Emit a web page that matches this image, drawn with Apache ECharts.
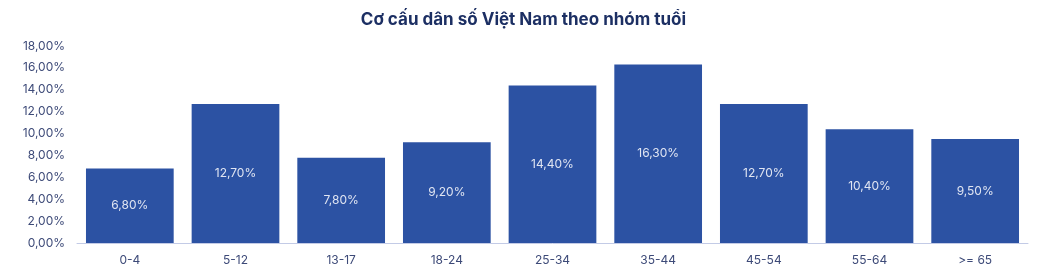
<!DOCTYPE html>
<html><head><meta charset="utf-8">
<script src="https://cdn.jsdelivr.net/npm/echarts@6/dist/echarts.min.js"></script>
<style>html,body{margin:0;padding:0;background:#fff}#c{width:1047px;height:271px}</style>
</head><body><div id="c"></div>
<script>
const categories = ['0-4','5-12','13-17','18-24','25-34','35-44','45-54','55-64','>= 65'];
const values = [6.8, 12.7, 7.8, 9.2, 14.4, 16.3, 12.7, 10.4, 9.5];
const titleText = 'Cơ cấu dân số Việt Nam theo nhóm tuổi';
const fmt = v => v.toFixed(2).replace('.', ',') + '%';
const chart = echarts.init(document.getElementById('c'));
chart.setOption({
  animation: false,
  textStyle: { fontFamily: 'Inter' },
  title: { text: titleText, left: 'center', top: 6,
    textStyle: { fontFamily: 'Inter', fontSize: 17, fontWeight: 'bold', color: '#1c2f63' } },
  grid: { left: 77, right: 19, top: 46, bottom: 28 },
  xAxis: { type: 'category', data: categories,
    axisLine: { lineStyle: { color: '#c3cbe6', width: 1 } },
    axisTick: { show: false },
    axisLabel: { color: '#3d4a78', fontSize: 12, margin: 11 } },
  yAxis: { type: 'value', min: 0, max: 18, interval: 2,
    splitLine: { show: false }, axisLine: { show: false }, axisTick: { show: false },
    axisLabel: { color: '#3d4a78', fontSize: 12, margin: 12, formatter: fmt } },
  series: [{ type: 'bar', data: values, barCategoryGap: '17%',
    itemStyle: { color: '#2c52a3' },
    label: { show: true, position: 'inside', color: '#e0e5f2', fontSize: 12, formatter: p => fmt(p.value) } }]
});
</script></body></html>
